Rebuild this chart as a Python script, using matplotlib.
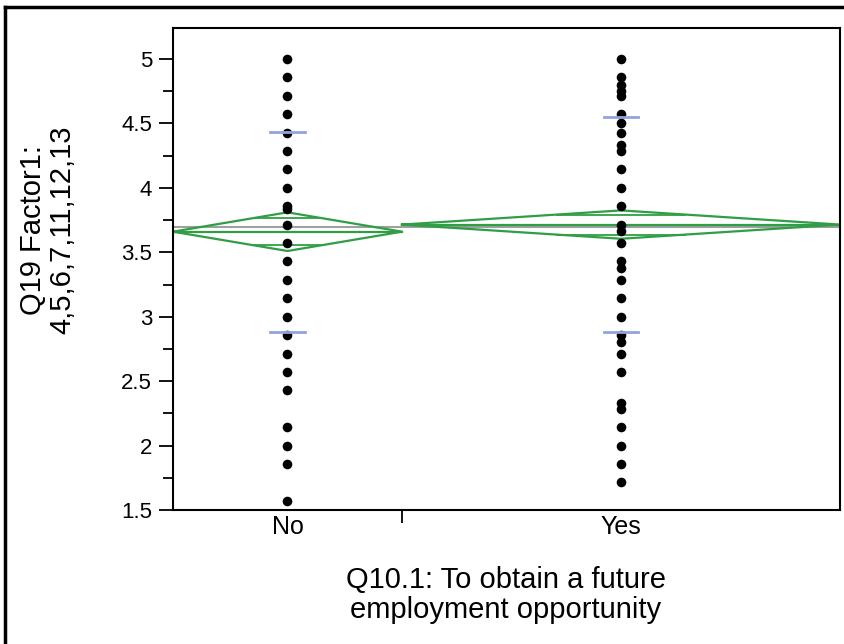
import matplotlib.pyplot as plt
import numpy as np
from matplotlib.lines import Line2D
from matplotlib.ticker import MultipleLocator, FormatStrFormatter

plt.rcParams['font.family'] = ['Liberation Sans', 'DejaVu Sans']

# data
groups = ['No', 'Yes']
group_n = [23, 44]
no_vals = [5.0, 4.857, 4.714, 4.571, 4.429, 4.286, 4.143, 4.0, 3.857, 3.833,
           3.714, 3.571, 3.429, 3.286, 3.143, 3.0, 2.857, 2.714, 2.571, 2.429,
           2.143, 2.0, 1.857, 1.571]
yes_vals = [5.0, 4.857, 4.8, 4.75, 4.714, 4.571, 4.5, 4.429, 4.333, 4.286,
            4.143, 4.0, 3.857, 3.714, 3.667, 3.571, 3.429, 3.375, 3.286, 3.143,
            3.0, 2.857, 2.8, 2.714, 2.571, 2.333, 2.286, 2.143, 2.0, 1.857, 1.714]
group_means = [3.66, 3.715]
ci_half = [0.15, 0.11]
group_sd = [0.775, 0.835]
grand_mean = 3.696

fig = plt.figure(figsize=(8.45, 6.44), dpi=100)
ax = fig.add_axes([173/845, 1 - 510/644, 667/845, 482/644])

w = np.array(group_n) / sum(group_n)
edges = np.concatenate([[0], np.cumsum(w)])
centers = (edges[:-1] + edges[1:]) / 2

green = '#2f9e44'
# grand mean
ax.axhline(grand_mean, color='#a0a0a0', lw=1.5, zorder=1)

for i, vals in enumerate([no_vals, yes_vals]):
    x0, x1, xc = edges[i], edges[i + 1], centers[i]
    m, h = group_means[i], ci_half[i]
    # means diamond
    ax.plot([x0, xc, x1, xc, x0], [m, m + h, m, m - h, m], color=green, lw=1.6, zorder=2)
    ax.plot([x0, x1], [m, m], color=green, lw=1.6, zorder=2)
    # overlap marks
    off = h / np.sqrt(2)
    half_w = (x1 - x0) / 2 * (1 - off / h)
    for s in (1, -1):
        ax.plot([xc - half_w, xc + half_w], [m + s * off] * 2, color=green, lw=1.3, zorder=2)
    # std dev lines
    for s in (1, -1):
        ax.plot([xc - 0.026, xc + 0.026], [m + s * group_sd[i]] * 2,
                color='#8fa5dc', lw=2, zorder=4)
    ax.scatter(np.full(len(vals), xc), vals, s=48, color='black', zorder=3, linewidths=0)

ax.set_xlim(0, 1)
ax.set_ylim(1.5, 5.2406)
ax.yaxis.set_major_locator(MultipleLocator(0.5))
ax.yaxis.set_minor_locator(MultipleLocator(0.25))
ax.yaxis.set_major_formatter(FormatStrFormatter('%g'))
ax.tick_params(axis='y', which='major', length=10, width=1.3, labelsize=16, pad=5)
ax.tick_params(axis='y', which='minor', length=7, width=1.3)

ax.set_xticks(edges[1:-1])
ax.set_xticklabels([])
ax.tick_params(axis='x', which='major', length=9, width=1.3)
for xc, g in zip(centers, groups):
    ax.text(xc, -0.01, g, transform=ax.get_xaxis_transform(), ha='center', va='top', fontsize=18)

for sp in ax.spines.values():
    sp.set_linewidth(1.5)

fig.text(48/845, 1 - 230/644, 'Q19 Factor1:\n4,5,6,7,11,12,13', rotation=90,
         ha='center', va='center', multialignment='center', fontsize=21, linespacing=1.05)
fig.text(506/845, 1 - 595/644, 'Q10.1: To obtain a future\nemployment opportunity',
         ha='center', va='center', multialignment='center', fontsize=21, linespacing=1.08)

# outer frame
fig.add_artist(Line2D([5/845, 5/845], [0, 1 - 7/644], color='black', lw=2.5))
fig.add_artist(Line2D([5/845, 1], [1 - 7/644, 1 - 7/644], color='black', lw=2.5))

fig.savefig('out.png', dpi=100)
